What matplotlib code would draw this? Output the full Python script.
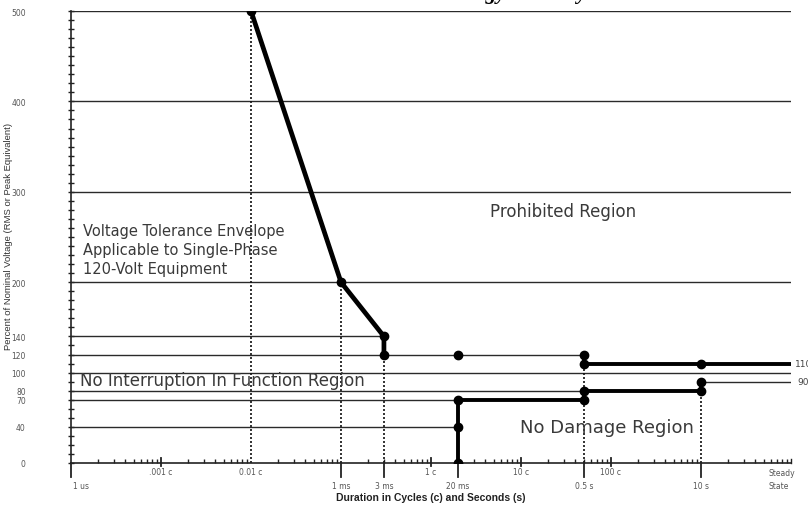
import matplotlib
matplotlib.use("Agg")
import matplotlib.pyplot as plt
import matplotlib.transforms as mtransforms
from matplotlib.ticker import LogLocator, NullFormatter, MultipleLocator

# Voltage levels (percent of nominal) used for the labelled y ticks
y_levels = [0, 40, 70, 80, 100, 120, 140, 200, 300, 400, 500]

# Duration axis (seconds, log scale) - cycle labels and second labels
cycle_ticks = [1e-5, 1e-4, 1e-2, 1e-1, 1.0]
cycle_labels = [".001 c", "0.01 c", "1 c", "10 c", "100 c"]
sec_ticks = [1e-6, 1e-3, 3e-3, 2e-2, 0.5, 10.0, 100.0]
sec_labels = ["1 us", "1 ms", "3 ms", "20 ms", "0.5 s", "10 s", "Steady\nState"]

# Envelope segments (duration in s, voltage in %)
upper_t = [1e-4, 1e-3, 3e-3, 3e-3]
upper_v = [500, 200, 140, 120]
upper2_t = [0.5, 0.5, 10.0, 100.0]
upper2_v = [120, 110, 110, 110]
lower_t = [0.02, 0.02, 0.5, 0.5, 10.0, 10.0]
lower_v = [0, 70, 70, 80, 80, 90]

# Break points marked on the envelope
pts_t = [1e-4, 1e-3, 3e-3, 3e-3, 0.02, 0.5, 0.5, 10.0,
         0.02, 0.02, 0.02, 0.5, 0.5, 10.0, 10.0]
pts_v = [500, 200, 140, 120, 120, 120, 110, 110,
         0, 40, 70, 70, 80, 80, 90]

# Thin reference lines: (level, start, end)
ref_lines = [(500, 1e-6, 100.0), (400, 1e-6, 100.0), (300, 1e-6, 100.0),
             (200, 1e-6, 100.0), (140, 1e-6, 3e-3), (120, 1e-6, 0.5),
             (100, 1e-6, 100.0), (90, 10.0, 100.0), (80, 1e-6, 0.5),
             (70, 1e-6, 0.02), (40, 1e-6, 0.02)]

# Dotted drop lines: (duration, top level)
drop_lines = [(1e-4, 500), (1e-3, 200), (3e-3, 120), (0.5, 120), (10.0, 80)]

plt.rcParams["font.family"] = ["DejaVu Sans"]
fig = plt.figure(figsize=(8.08, 5.06), dpi=100)
ax = fig.add_axes([71 / 808, 42 / 506, 720 / 808, 452 / 506])
ax.set_xscale("log")
ax.set_xlim(1e-6, 1e2)
ax.set_ylim(0, 500)

for s in ("top", "right"):
    ax.spines[s].set_visible(False)
for s in ("left", "bottom"):
    ax.spines[s].set_color("#222")
    ax.spines[s].set_linewidth(1.2)

line_c = "#2a2a2a"
for lvl, x0, x1 in ref_lines:
    ax.plot([x0, x1], [lvl, lvl], color=line_c, lw=1.0, zorder=2)

for t, top in drop_lines:
    ax.plot([t, t], [0, top], color="#111", lw=1.2, ls=(0, (1.2, 1.2)), zorder=2)

ax.plot(upper_t, upper_v, color="black", lw=3.4, solid_capstyle="round", zorder=4)
ax.plot(upper2_t, upper2_v, color="black", lw=2.8, zorder=4)
ax.plot(lower_t, lower_v, color="black", lw=2.8, zorder=4)
ax.plot(pts_t, pts_v, ls="none", marker="o", ms=6, color="black", zorder=5)

# right-hand level tags (run off the edge of the sheet)
for lvl, txt, dx in ((110, "110", 2.5), (90, "90", 4.5)):
    ax.annotate(txt, xy=(100.0, lvl), xytext=(dx, 0), textcoords="offset points",
                ha="left", va="center", fontsize=6.5, color="#444",
                annotation_clip=False)

# y axis
ax.set_yticks(y_levels)
ax.set_yticklabels([str(v) for v in y_levels])
ax.yaxis.set_minor_locator(MultipleLocator(10))
ax.tick_params(axis="y", which="both", direction="inout", length=5, width=1.0,
               color="#222", labelsize=5.5, labelcolor="#555", pad=30)
ax.set_ylabel("Percent of Nominal Voltage (RMS or Peak Equivalent)",
              fontsize=6.8, color="#333", family="Liberation Sans")
ax.yaxis.set_label_coords(-0.081, 0.504)

# x axis: minor log ticks only, custom major ticks drawn below
ax.set_xticks([])
ax.xaxis.set_minor_locator(LogLocator(base=10, subs=range(2, 10), numticks=20))
ax.xaxis.set_minor_formatter(NullFormatter())
ax.tick_params(axis="x", which="minor", direction="in", length=3, width=1.0,
               color="#222")

xt = ax.get_xaxis_transform()
px = 1 / 452
for t, lab in zip(cycle_ticks, cycle_labels):
    if t != 1e-4:
        ax.plot([t, t], [5 * px, -3 * px], transform=xt, color="#222", lw=1.3,
                clip_on=False)
    ax.text(t, -9 * px, lab, transform=xt, ha="center", va="center",
            fontsize=5.5, color="#555")
for t, lab in zip(sec_ticks, sec_labels):
    if lab.startswith("Steady"):
        ax.plot([t, t], [0, 4 * px], transform=xt, color="#222", lw=1.0,
                clip_on=False)
        ax.text(t * 0.56, -16 * px, lab, transform=xt, ha="left", va="center",
                fontsize=5.5, color="#555", linespacing=1.5)
        continue
    ax.plot([t, t], [0, -14 * px], transform=xt, color="#222", lw=1.3,
            clip_on=False)
    ax.text(t * (1.3 if t == 1e-6 else 1.0), -23 * px, lab, transform=xt,
            ha="center", va="center", fontsize=5.5, color="#555")

ax.set_xlabel("Duration in Cycles (c) and Seconds (s)", fontsize=7.5,
              fontweight="bold", color="#222", family="Liberation Sans")
ax.xaxis.set_label_coords(0.5, -0.064)

# region annotations (x in axes fraction, y in percent)
at = mtransforms.blended_transform_factory(ax.transAxes, ax.transData)
txt_c = "#3a3a3a"
ax.text(0.582, 279, "Prohibited Region", transform=at,
        fontsize=12, color=txt_c, va="center")
for i, line in enumerate(["Voltage Tolerance Envelope",
                          "Applicable to Single-Phase",
                          "120-Volt Equipment"]):
    ax.text(0.016, 257 - i * 21, line, transform=at,
            fontsize=10.5, color=txt_c, va="center")
ax.text(0.013, 92, "No Interruption In Function Region", transform=at,
        fontsize=12, color=txt_c, va="center")
ax.text(0.624, 40, "No Damage Region", transform=at,
        fontsize=13, color=txt_c, va="center")

# heading, mostly above the visible area
fig.text(0.82, 1.0 + 1 / 506, "Technology Industry Council", ha="right",
         va="baseline", fontsize=15.5, fontweight="bold", fontstyle="italic",
         family="Liberation Serif")

fig.savefig("out.png", dpi=100, facecolor="white")
